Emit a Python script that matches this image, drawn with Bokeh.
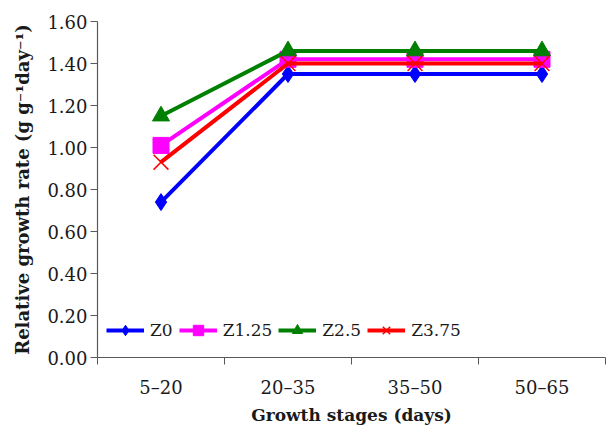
from bokeh.plotting import figure
from bokeh.models import Range1d, FixedTicker, Legend, LegendItem, PrintfTickFormatter
from bokeh.embed import file_html
from bokeh.resources import INLINE

# ---- data ----
stages = ["5–20", "20–35", "35–50", "50–65"]
z0 = [0.74, 1.35, 1.35, 1.35]
z1_25 = [1.01, 1.42, 1.42, 1.42]
z2_5 = [1.15, 1.46, 1.46, 1.46]
z3_75 = [0.93, 1.40, 1.40, 1.40]
series_names = ["Z0", "Z1.25", "Z2.5", "Z3.75"]
y_ticks = [0.0, 0.2, 0.4, 0.6, 0.8, 1.0, 1.2, 1.4, 1.6]
y_title = "Relative growth rate (g g⁻¹day⁻¹)"
x_title = "Growth stages (days)"

# ---- styles ----
colors = ["#0000FF", "#FF00FF", "#008000", "#FF0000"]
markers = ["diamond", "square", "triangle", "x"]
sizes = [17, 16, 17, 21]
FONT = "DejaVu Serif"
AXIS_COLOR = "#595959"
TEXT_COLOR = "#1a1a1a"

xs = list(range(1, len(stages) + 1))

p = figure(width=607, height=427, output_backend="svg", toolbar_location=None,
           x_range=Range1d(0.5, len(stages) + 0.5), y_range=Range1d(0, y_ticks[-1]),
           min_border_left=97, min_border_top=21, min_border_bottom=68, min_border_right=2)
p.outline_line_color = None
p.xgrid.grid_line_color = None
p.ygrid.grid_line_color = None
p.background_fill_color = "white"
p.border_fill_color = "white"

items = []
for vals, name, c, m, s in zip([z0, z1_25, z2_5, z3_75], series_names, colors, markers, sizes):
    ln = p.line(xs, vals, line_color=c, line_width=4)
    if m == "x":
        mk = p.scatter(xs, vals, marker=m, size=s, line_color=c, line_width=1.5)
    else:
        mk = p.scatter(xs, vals, marker=m, size=s, fill_color=c, line_color=c, line_width=1)
    items.append(LegendItem(label=name, renderers=[ln, mk]))

legend = Legend(items=items, orientation="horizontal", location=(9, 14),
                background_fill_alpha=0, border_line_color=None,
                padding=0, margin=0, spacing=6, label_standoff=6,
                glyph_width=38, glyph_height=26,
                label_text_font=FONT, label_text_font_size="17px", label_text_color=TEXT_COLOR)
p.add_layout(legend)

# x axis
xa = p.xaxis[0]
xa.ticker = FixedTicker(ticks=xs, minor_ticks=[x - 0.5 for x in xs] + [xs[-1] + 0.5])
xa.major_label_overrides = {x: s for x, s in zip(xs, stages)}
xa.major_tick_out = 0
xa.major_tick_in = 0
xa.minor_tick_out = 7
xa.minor_tick_in = 0
xa.minor_tick_line_color = AXIS_COLOR
xa.axis_line_color = AXIS_COLOR
xa.axis_line_width = 1.2
xa.major_label_standoff = 12
xa.major_label_text_font = FONT
xa.major_label_text_font_size = "18px"
xa.major_label_text_color = TEXT_COLOR
xa.axis_label = x_title
xa.axis_label_text_font = FONT
xa.axis_label_text_font_style = "bold"
xa.axis_label_text_font_size = "17px"
xa.axis_label_text_color = TEXT_COLOR
xa.axis_label_standoff = 4

# y axis
ya = p.yaxis[0]
ya.ticker = FixedTicker(ticks=y_ticks)
ya.formatter = PrintfTickFormatter(format="%.2f")
ya.major_tick_out = 7
ya.major_tick_in = 0
ya.minor_tick_out = 0
ya.minor_tick_in = 0
ya.major_tick_line_color = AXIS_COLOR
ya.axis_line_color = AXIS_COLOR
ya.axis_line_width = 1.2
ya.major_label_standoff = 3
ya.major_label_text_font = FONT
ya.major_label_text_font_size = "18px"
ya.major_label_text_color = TEXT_COLOR
ya.axis_label = y_title
ya.axis_label_text_font = FONT
ya.axis_label_text_font_style = "bold"
ya.axis_label_text_font_size = "18px"
ya.axis_label_text_color = TEXT_COLOR
ya.axis_label_standoff = 11

open("out.html", "w").write(file_html(p, INLINE))
